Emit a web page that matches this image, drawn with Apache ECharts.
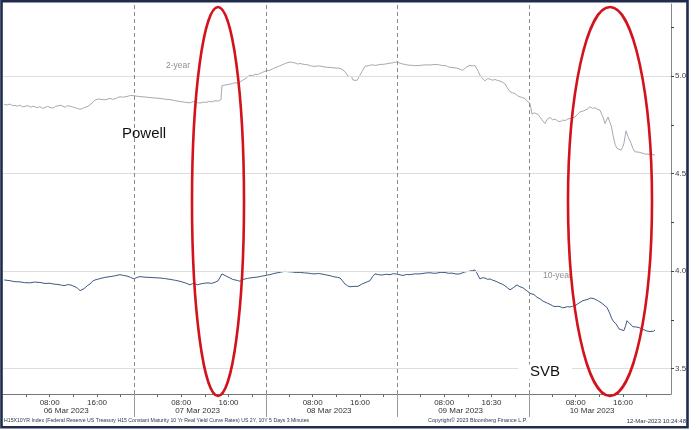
<!DOCTYPE html>
<html>
<head>
<meta charset="utf-8">
<script src="https://cdn.jsdelivr.net/npm/echarts@6/dist/echarts.min.js"></script>
<style>
html,body{margin:0;padding:0;background:#fff;}
#c{width:700px;height:430px;}
</style>
</head>
<body>
<div id="c"></div>
<script>
// ---- data (x = trading-day position, 0 = start of 06 Mar; y = yield %) ----
var t2 = [0.008,0.030,0.053,0.072,0.091,0.110,0.130,0.148,0.167,0.190,0.210,0.228,0.243,0.262,0.280,0.300,0.319,0.338,0.357,0.380,0.400,
  0.418,0.440,0.455,0.471,0.490,0.510,0.530,0.548,0.567,0.586,0.605,0.624,0.646,0.660,0.677,0.690,0.700,0.725,0.753,0.780,0.795,0.814,
  0.833,0.852,0.870,0.890,0.915,0.943,0.970,0.996,1.020,1.042,1.080,1.118,1.155,1.194,1.230,1.270,1.310,1.346,1.385,1.422,1.440,1.460,
  1.480,1.498,1.525,1.551,1.570,1.589,1.612,1.635,1.650,1.658,1.665,1.680,1.696,1.710,1.726,1.745,1.764,1.785,1.802,1.820,1.840,1.860,
  1.878,1.900,1.916,1.935,1.954,1.975,2.000,2.015,2.030,2.050,2.068,2.095,2.122,2.150,2.183,2.200,2.221,2.240,2.259,2.290,2.319,2.345,
  2.373,2.400,2.426,2.455,2.487,2.525,2.563,2.585,2.601,2.624,2.639,2.650,2.662,2.677,2.692,2.715,2.735,2.753,2.780,2.806,2.835,2.867,
  2.900,2.928,2.960,2.996,3.020,3.042,3.070,3.095,3.130,3.171,3.210,3.247,3.285,3.319,3.340,3.361,3.380,3.399,3.430,3.460,3.480,3.498,
  3.520,3.551,3.570,3.589,3.610,3.627,3.645,3.665,3.685,3.703,3.722,3.741,3.760,3.779,3.800,3.817,3.835,3.856,3.875,3.894,3.912,3.932,
  3.950,3.970,3.985,3.992,4.008,4.023,4.040,4.053,4.070,4.084,4.100,4.122,4.140,4.160,4.180,4.198,4.218,4.236,4.255,4.274,4.293,4.312,
  4.330,4.350,4.370,4.388,4.407,4.426,4.445,4.464,4.483,4.502,4.520,4.540,4.553,4.563,4.578,4.590,4.601,4.616,4.628,4.639,4.655,4.669,
  4.684,4.700,4.712,4.722,4.738,4.753,4.765,4.776,4.790,4.806,4.820,4.837,4.850,4.867,4.885,4.905,4.920,4.935,4.945,4.958];
var y2 = [4.856,4.852,4.857,4.849,4.850,4.846,4.851,4.843,4.845,4.849,4.841,4.846,4.842,4.838,4.844,4.835,4.838,4.845,4.840,4.836,4.845,
  4.848,4.851,4.842,4.840,4.849,4.846,4.842,4.838,4.834,4.830,4.834,4.840,4.845,4.852,4.862,4.870,4.877,4.883,4.880,4.879,4.888,4.886,
  4.881,4.884,4.890,4.894,4.892,4.896,4.901,4.900,4.897,4.895,4.893,4.890,4.888,4.886,4.882,4.880,4.874,4.870,4.866,4.863,4.868,4.870,
  4.864,4.862,4.867,4.866,4.871,4.868,4.874,4.872,4.878,4.880,4.952,4.948,4.955,4.953,4.959,4.962,4.966,4.964,4.970,4.978,4.985,4.997,
  5.005,5.002,5.010,5.008,5.014,5.020,5.027,5.024,5.030,5.037,5.043,5.050,5.058,5.066,5.073,5.070,5.068,5.062,5.065,5.060,5.058,5.052,
  5.050,5.053,5.050,5.046,5.045,5.042,5.040,5.032,5.022,5.000,4.993,4.998,4.980,4.985,4.978,5.005,5.030,5.050,5.054,5.058,5.055,5.060,
  5.061,5.065,5.068,5.073,5.066,5.062,5.058,5.056,5.054,5.055,5.058,5.057,5.060,5.058,5.054,5.055,5.050,5.045,5.043,5.040,5.034,5.030,
  5.045,5.056,5.052,5.055,5.030,5.005,4.990,4.976,4.987,4.985,4.979,4.983,4.978,4.975,4.968,4.962,4.940,4.920,4.915,4.910,4.900,4.894,
  4.890,4.885,4.875,4.868,4.860,4.805,4.812,4.810,4.803,4.800,4.775,4.757,4.780,4.788,4.776,4.780,4.770,4.766,4.775,4.772,4.780,4.783,
  4.786,4.790,4.805,4.817,4.820,4.825,4.832,4.843,4.835,4.838,4.830,4.826,4.805,4.790,4.757,4.775,4.790,4.780,4.740,4.697,4.650,4.630,
  4.625,4.620,4.635,4.656,4.720,4.690,4.672,4.656,4.630,4.612,4.615,4.610,4.606,4.604,4.600,4.600,4.597,4.598,4.594,4.595];

var t10 = [0.008,0.030,0.053,0.090,0.129,0.165,0.205,0.240,0.281,0.320,0.357,0.390,0.418,0.445,0.471,0.490,0.510,0.530,0.548,0.567,0.586,
  0.600,0.616,0.640,0.662,0.680,0.700,0.720,0.738,0.775,0.814,0.850,0.890,0.915,0.943,0.970,0.996,1.020,1.042,1.080,1.118,1.155,1.194,
  1.230,1.270,1.310,1.346,1.385,1.422,1.440,1.460,1.480,1.498,1.530,1.559,1.585,1.612,1.635,1.650,1.665,1.680,1.696,1.710,1.726,1.745,
  1.764,1.785,1.802,1.820,1.840,1.860,1.878,1.910,1.939,1.965,1.992,2.010,2.030,2.060,2.091,2.120,2.144,2.170,2.198,2.230,2.259,2.290,
  2.319,2.345,2.373,2.400,2.426,2.455,2.487,2.505,2.525,2.545,2.563,2.582,2.601,2.620,2.639,2.654,2.670,2.684,2.700,2.715,2.735,2.753,
  2.775,2.791,2.810,2.829,2.855,2.882,2.910,2.943,2.970,2.996,3.020,3.042,3.070,3.095,3.130,3.171,3.210,3.247,3.275,3.300,3.330,3.361,
  3.390,3.414,3.445,3.475,3.490,3.506,3.530,3.551,3.570,3.589,3.600,3.612,3.627,3.645,3.665,3.685,3.703,3.722,3.741,3.760,3.779,3.800,
  3.817,3.836,3.856,3.880,3.909,3.925,3.939,3.955,3.970,3.990,4.008,4.023,4.038,4.050,4.061,4.075,4.091,4.107,4.122,4.140,4.160,4.180,
  4.198,4.217,4.236,4.255,4.274,4.293,4.312,4.330,4.350,4.370,4.388,4.411,4.430,4.449,4.468,4.487,4.503,4.517,4.530,4.540,4.555,4.570,
  4.593,4.610,4.631,4.645,4.662,4.675,4.684,4.700,4.722,4.735,4.745,4.757,4.768,4.780,4.791,4.810,4.829,4.844,4.860,4.875,4.890,4.905,
  4.920,4.935,4.948,4.958];
var y10 = [3.955,3.953,3.951,3.946,3.945,3.941,3.940,3.944,3.942,3.937,3.938,3.933,3.932,3.928,3.926,3.931,3.930,3.925,3.920,3.912,3.900,
  3.905,3.910,3.925,3.934,3.948,3.955,3.958,3.962,3.968,3.972,3.976,3.982,3.978,3.975,3.968,3.960,3.968,3.972,3.969,3.968,3.966,3.965,
  3.962,3.958,3.953,3.948,3.940,3.930,3.936,3.935,3.930,3.934,3.938,3.940,3.937,3.943,3.950,3.960,3.986,3.980,3.975,3.968,3.965,3.958,
  3.955,3.952,3.948,3.956,3.960,3.963,3.965,3.968,3.970,3.974,3.977,3.980,3.982,3.988,3.992,3.996,3.999,3.997,3.996,3.993,3.994,3.991,
  3.990,3.987,3.986,3.988,3.985,3.981,3.977,3.973,3.970,3.968,3.965,3.950,3.934,3.925,3.920,3.914,3.922,3.925,3.922,3.929,3.936,3.940,
  3.947,3.951,3.972,3.986,3.982,3.980,3.984,3.982,3.987,3.985,3.981,3.978,3.983,3.982,3.986,3.986,3.990,3.992,3.989,3.990,3.994,3.993,
  3.989,3.990,3.985,3.986,3.992,3.995,3.998,4.000,4.003,4.006,3.995,3.985,3.960,3.966,3.965,3.958,3.960,3.954,3.950,3.944,3.938,3.932,
  3.925,3.915,3.904,3.915,3.929,3.922,3.920,3.914,3.909,3.896,3.886,3.882,3.880,3.872,3.866,3.862,3.855,3.846,3.840,3.836,3.830,3.822,
  3.818,3.820,3.818,3.812,3.814,3.818,3.816,3.820,3.823,3.832,3.840,3.849,3.852,3.856,3.862,3.860,3.856,3.852,3.846,3.840,3.835,3.830,
  3.814,3.790,3.755,3.740,3.730,3.715,3.704,3.700,3.695,3.720,3.746,3.738,3.730,3.722,3.715,3.714,3.712,3.709,3.704,3.700,3.694,3.686,
  3.690,3.695,3.692,3.698];

// ---- axis ticks / labels ----
var timeTickPos = [0.355,0.715,1.355,1.715,2.355,2.715,3.355,3.715,4.355,4.715];
var timeTickLabels = ['08:00','16:00','08:00','16:00','08:00','16:00','08:00','16:30','08:00','16:00'];
var minorTickPos = [0.175,0.355,0.535,0.715,0.895,1.175,1.355,1.535,1.715,1.895,2.175,2.355,2.535,2.715,2.895,
  3.175,3.355,3.535,3.715,3.895,4.175,4.355,4.535,4.715,4.895];
var dayBreaks = [1,2,3,4];
var datePos = [0.48,1.48,2.48,3.48,4.48];
var dateLabels = ['06 Mar 2023','07 Mar 2023','08 Mar 2023','09 Mar 2023','10 Mar 2023'];
var yLabelVals = [3.5,4.0,4.5,5.0];
var yTickVals = [3.5,3.75,4.0,4.25,4.5,4.75,5.0,5.25];

function lookup(pos, labels, v){
  var best = 0, d = 1e9;
  for (var i = 0; i < pos.length; i++){ var dd = Math.abs(pos[i]-v); if (dd < d){d = dd; best = i;} }
  return labels[best];
}
function pairs(t, y){ return t.map(function(v,i){ return [v, y[i]]; }); }

var FONT = 'Liberation Sans';
var chart = echarts.init(document.getElementById('c'), null, {renderer:'canvas'});
chart.setOption({
  animation: false,
  backgroundColor: '#ffffff',
  grid: {left: 3, right: 29, top: 4, bottom: 36, containLabel: false},
  xAxis: [{
    type: 'value', min: 0, max: 5.08, position: 'bottom',
    axisLine: {show: true, onZero: false, lineStyle: {color: '#777', width: 1}},
    axisTick: {show: true, inside: false, length: 3, customValues: minorTickPos, lineStyle: {color: '#666'}},
    axisLabel: {show: true, customValues: timeTickPos, margin: 5, fontSize: 8, fontFamily: FONT, color: '#333',
      formatter: function(v){ return lookup(timeTickPos, timeTickLabels, v); }},
    splitLine: {show: false}
  },{
    type: 'value', min: 0, max: 5.08, position: 'bottom',
    axisLine: {show: false, onZero: false},
    axisTick: {show: true, inside: false, length: 23, customValues: dayBreaks, lineStyle: {color: '#999', width: 1}},
    axisLabel: {show: true, customValues: datePos, margin: 13, fontSize: 8, fontFamily: FONT, color: '#333',
      formatter: function(v){ return lookup(datePos, dateLabels, v); }},
    splitLine: {show: false}
  }],
  yAxis: {
    type: 'value', position: 'right', min: 3.37, max: 5.37,
    axisLine: {show: true, onZero: false, lineStyle: {color: '#888', width: 1}},
    axisTick: {show: true, inside: false, length: 3, customValues: yTickVals, lineStyle: {color: '#444'}},
    axisLabel: {show: true, customValues: yLabelVals, margin: 4, fontSize: 8, fontFamily: FONT, color: '#444',
      formatter: function(v){ return v.toFixed(1); }},
    splitLine: {show: false}
  },
  series: [{
    name: 'grid', type: 'line', data: [], silent: true,
    markLine: {silent: true, symbol: 'none', animation: false, label: {show: false},
      data: yLabelVals.map(function(v){ return {yAxis: v, lineStyle: {color: '#dedede', width: 1, type: 'solid'}}; })
        .concat(dayBreaks.map(function(v){ return {xAxis: v, lineStyle: {color: '#8a8a8a', width: 1, type: [4,3]}}; }))
    }
  },{
    name: '2-year', type: 'line', data: pairs(t2, y2), showSymbol: false, symbol: 'none',
    lineStyle: {color: '#a3abb4', width: 1}, z: 3
  },{
    name: '10-year', type: 'line', data: pairs(t10, y10), showSymbol: false, symbol: 'none',
    lineStyle: {color: '#3b5880', width: 1}, z: 3
  }],
  graphic: [
    {type: 'text', x: 166, y: 66, z: 10, style: {text: '2-year', font: '8.5px ' + FONT, fill: '#8a8f96', textVerticalAlign: 'middle', verticalAlign: 'middle'}},
    {type: 'text', x: 543, y: 276, z: 10, style: {text: '10-year', font: '8.5px ' + FONT, fill: '#8a8f96', textVerticalAlign: 'middle', verticalAlign: 'middle'}},
    {type: 'text', x: 122, y: 134, z: 10, style: {text: 'Powell', font: '15px ' + FONT, fill: '#111', textVerticalAlign: 'middle', verticalAlign: 'middle'}},
    {type: 'text', x: 518, y: 372, z: 10, style: {text: 'SVB', font: '15px ' + FONT, fill: '#111', backgroundColor: '#fff', padding: [0, 12, 0, 12], textVerticalAlign: 'middle', verticalAlign: 'middle'}},
    {type: 'ellipse', z: 20, shape: {cx: 218, cy: 201.5, rx: 26, ry: 194.5}, style: {fill: 'none', stroke: '#d3121b', lineWidth: 2.6}},
    {type: 'ellipse', z: 20, shape: {cx: 610, cy: 201.5, rx: 42, ry: 194.5}, style: {fill: 'none', stroke: '#d3121b', lineWidth: 2.6}},
    {type: 'text', x: 4, y: 421, z: 10, style: {text: 'H15X10YR Index (Federal Reserve US Treasury H15 Constant Maturity 10 Yr Real Yield Curve Rates) US 2Y, 10Y 5 Days 3 Minutes', font: '5.2px ' + FONT, fill: '#2a3550', textVerticalAlign: 'middle', verticalAlign: 'middle'}},
    {type: 'text', x: 428, y: 421, z: 10, style: {text: 'Copyright\u00a9 2023 Bloomberg Finance L.P.', font: '5.4px ' + FONT, fill: '#2a3550', textVerticalAlign: 'middle', verticalAlign: 'middle'}},
    {type: 'text', x: 686, y: 421, z: 10, style: {text: '12-Mar-2023 10:24:48', font: '6px ' + FONT, fill: '#2a3550', textAlign: 'right', align: 'right', textVerticalAlign: 'middle', verticalAlign: 'middle'}},
    {type: 'rect', z: 30, shape: {x: 1.5, y: 1.2, width: 686, height: 426}, style: {fill: 'none', stroke: '#1f2c4c', lineWidth: 2.6}}
  ]
});
</script>
</body>
</html>
